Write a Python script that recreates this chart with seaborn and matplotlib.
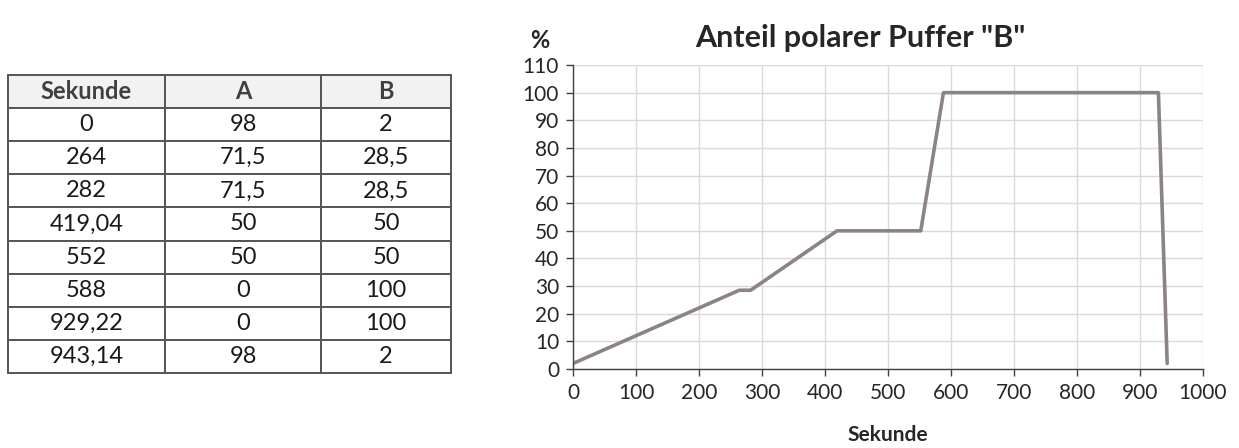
import matplotlib
matplotlib.use("Agg")
import matplotlib.pyplot as plt
import seaborn as sns
import pandas as pd

sekunde = [0, 264, 282, 419.04, 552, 588, 929.22, 943.14]
anteil_a = [98, 71.5, 71.5, 50, 50, 0, 0, 98]
anteil_b = [2, 28.5, 28.5, 50, 50, 100, 100, 2]
sekunde_labels = ["0", "264", "282", "419,04", "552", "588", "929,22", "943,14"]
a_labels = ["98", "71,5", "71,5", "50", "50", "0", "0", "98"]
b_labels = ["2", "28,5", "28,5", "50", "50", "100", "100", "2"]
col_labels = ["Sekunde", "A", "B"]
title = 'Anteil polarer Puffer "B"'
xticks = list(range(0, 1001, 100))
yticks = list(range(0, 111, 10))

sns.set_theme(style="white")
plt.rcParams['font.family'] = ['Lato', 'DejaVu Sans']

W, H = 1239, 448
fig = plt.figure(figsize=(W / 100, H / 100), dpi=100)

# chart
ax = fig.add_axes([573 / W, (H - 369) / H, (1203 - 573) / W, (369 - 65) / H])
df = pd.DataFrame({"Sekunde": sekunde, "B": anteil_b})
sns.lineplot(data=df, x="Sekunde", y="B", ax=ax, color="#8c8385", linewidth=2.6,
             sort=False, estimator=None)
ax.set_xlim(0, 1000)
ax.set_ylim(0, 110)
ax.set_xticks(xticks)
ax.set_yticks(yticks)
ax.set_xticklabels([str(t) for t in xticks], fontsize=15)
ax.set_yticklabels([str(t) for t in yticks], fontsize=15)
ax.grid(True, color="#d9d9d9", linewidth=1)
ax.set_axisbelow(True)
for s in ["top", "right"]:
    ax.spines[s].set_visible(False)
for s in ["left", "bottom"]:
    ax.spines[s].set_color("#404040")
    ax.spines[s].set_linewidth(1)
ax.tick_params(axis="both", direction="out", length=5, width=1, color="#404040",
               labelcolor="#262626", pad=5, left=True, bottom=True)
ax.set_xlabel("Sekunde", fontsize=15, fontweight="bold", labelpad=16)
ax.set_ylabel("")
fig.text(860 / W, 1 - 38 / H, title, fontsize=22, fontweight="bold", ha="center", va="center")
fig.text(540 / W, 1 - 40 / H, "%", fontsize=17, fontweight="bold", ha="center", va="center")

# table
tx0, tx1, ty0, ty1 = 8, 451, 75, 373
axt = fig.add_axes([tx0 / W, (H - ty1) / H, (tx1 - tx0) / W, (ty1 - ty0) / H])
axt.axis("off")
cell_text = [[s, a, b] for s, a, b in zip(sekunde_labels, a_labels, b_labels)]
widths = [157, 156, 130]
tot = sum(widths)
tbl = axt.table(cellText=cell_text, colLabels=col_labels, cellLoc="center",
                colWidths=[w / tot for w in widths], bbox=[0, 0, 1, 1])
tbl.auto_set_font_size(False)
for (r, c), cell in tbl.get_celld().items():
    cell.set_edgecolor("#555555")
    cell.set_linewidth(1.4)
    cell.get_text().set_fontsize(17)
    cell.get_text().set_color("#1a1a1a")
    if r == 0:
        cell.set_facecolor("#f2f2f2")
        cell.get_text().set_fontweight("bold")
        cell.get_text().set_color("#404040")

fig.savefig("out.png", dpi=100)
